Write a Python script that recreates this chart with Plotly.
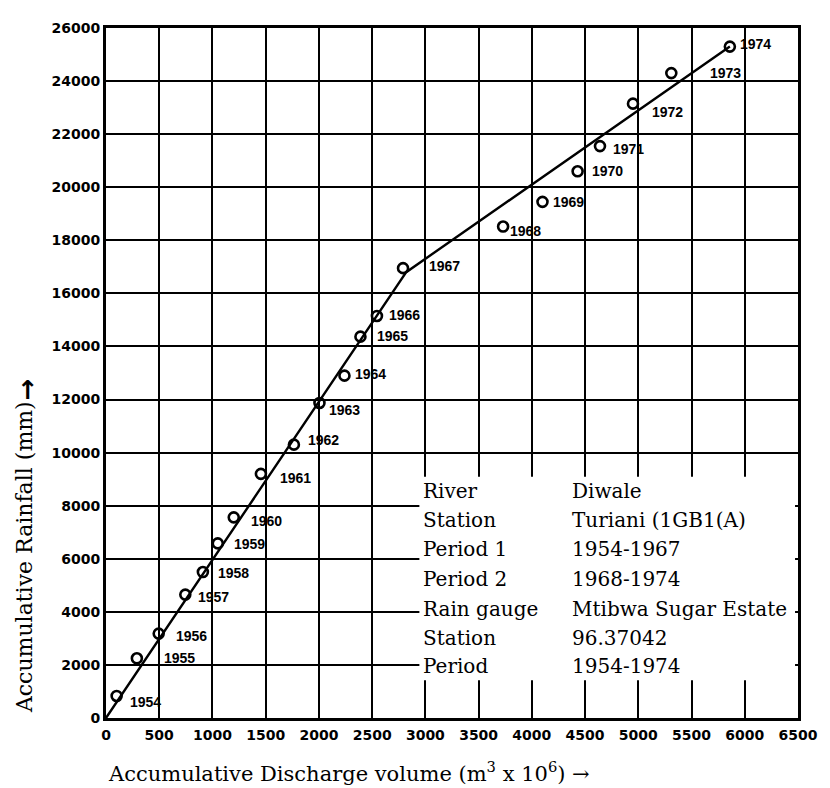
import plotly.graph_objects as go

# ---- data ----
years = [1954, 1955, 1956, 1957, 1958, 1959, 1960, 1961, 1962, 1963, 1964,
         1965, 1966, 1967, 1968, 1969, 1970, 1971, 1972, 1973, 1974]
discharge = [100, 290, 495, 745, 910, 1050, 1200, 1455, 1765, 2005, 2240,
             2390, 2545, 2790, 3730, 4100, 4430, 4640, 4950, 5310, 5860]
rainfall = [830, 2250, 3180, 4650, 5500, 6580, 7560, 9200, 10300, 11870, 12900,
            14370, 15150, 16950, 18520, 19450, 20600, 21550, 23150, 24300, 25300]

# double-mass fitted line (two periods)
line_x = [0, 2820, 5860]
line_y = [0, 16800, 25300]

x_ticks = list(range(0, 6501, 500))
y_ticks = list(range(0, 26001, 2000))

table_left = ["River", "Station", "Period 1", "Period 2", "Rain gauge", "Station", "Period"]
table_right = ["Diwale", "Turiani (1GB1(A)", "1954-1967", "1968-1974",
               "Mtibwa Sugar Estate", "96.37042", "1954-1974"]

# ---- label pixel offsets (style) ----
label_dx = [11, 25, 15, 11, 13, 14, 15, 17, 12, 8, 9, 15, 10, 24, 5, 9, 12, 11, 17, 37, 8]
label_dy = [6, 0, 2, 2, 1, 1, 4, 4, -5, 7, -2, -1, -1, -2, 4, 0, 0, 3, 8, 0, -3]

OFF = 8  # page body margin
W, H = 830 - OFF, 788 - OFF
L, T = 106 - OFF, 23 - OFF
PW, PH = 700, 695
R, B = W - L - PW, H - T - PH


def px(xp):
    return (xp - OFF - L) / PW


def py(yp):
    return (T + PH - (yp - OFF)) / PH


fig = go.Figure()

fig.add_trace(go.Scatter(
    x=line_x, y=line_y, mode="lines",
    line=dict(color="black", width=2.4), hoverinfo="skip", showlegend=False))

fig.add_trace(go.Scatter(
    x=discharge, y=rainfall, mode="markers",
    marker=dict(symbol="circle-open", size=10, color="black",
                line=dict(width=2.6, color="black")),
    showlegend=False))

annotations = []
for yr, xv, yv, dx, dy in zip(years, discharge, rainfall, label_dx, label_dy):
    annotations.append(dict(
        x=xv, y=yv, xref="x", yref="y", text=str(yr), showarrow=False,
        xanchor="left", yanchor="middle", xshift=dx, yshift=-dy,
        font=dict(family="Liberation Sans", size=14, color="black", weight="bold")))

row_y = [489, 519, 548, 578, 608, 637, 666]
for lt, rt, yy in zip(table_left, table_right, row_y):
    annotations.append(dict(x=px(425), y=py(yy), xref="paper", yref="paper",
                            text=lt, showarrow=False, xanchor="left", yanchor="middle",
                            font=dict(family="DejaVu Serif", size=20, color="black")))
    annotations.append(dict(x=px(575), y=py(yy), xref="paper", yref="paper",
                            text=rt, showarrow=False, xanchor="left", yanchor="middle",
                            font=dict(family="DejaVu Serif", size=20, color="black")))

# axis titles
annotations.append(dict(
    x=px(106), y=py(772), xref="paper", yref="paper", xanchor="left", yanchor="middle",
    text="Accumulative Discharge volume (m<sup>3</sup> x 10<sup>6</sup>) \u2192",
    showarrow=False, font=dict(family="DejaVu Serif", size=21, color="black")))
annotations.append(dict(
    x=px(23), y=py(556), xref="paper", yref="paper", xanchor="center", yanchor="middle",
    text="Accumulative Rainfall (mm)", textangle=-90,
    showarrow=False, font=dict(family="DejaVu Serif", size=22, color="black")))
annotations.append(dict(
    x=px(27), y=py(388), xref="paper", yref="paper", xanchor="center", yanchor="middle",
    text="\u2191", showarrow=False,
    font=dict(family="DejaVu Sans", size=26, color="black", weight="bold")))

shapes = [dict(type="rect", xref="paper", yref="paper",
               x0=px(423), x1=px(803), y0=py(680), y1=py(475),
               fillcolor="white", line=dict(width=0), layer="above")]

tick_font = dict(family="DejaVu Sans", size=14, color="black", weight="bold")

fig.update_layout(
    width=W, height=H,
    margin=dict(l=L, r=R, t=T, b=B, pad=0),
    paper_bgcolor="white", plot_bgcolor="white",
    annotations=annotations, shapes=shapes,
    xaxis=dict(range=[0, 6500], tickvals=x_ticks, ticktext=[str(v) for v in x_ticks],
               showgrid=True, gridcolor="black", gridwidth=2.4, zeroline=False,
               showline=True, linecolor="black", linewidth=3, mirror=True,
               ticks="", ticklabelstandoff=2, tickfont=tick_font),
    yaxis=dict(range=[0, 26000], tickvals=y_ticks, ticktext=[str(v) for v in y_ticks],
               showgrid=True, gridcolor="black", gridwidth=2.4, zeroline=False,
               showline=True, linecolor="black", linewidth=3, mirror=True,
               ticks="", ticklabelstandoff=0, tickfont=tick_font),
)

fig.write_html("out.html")
